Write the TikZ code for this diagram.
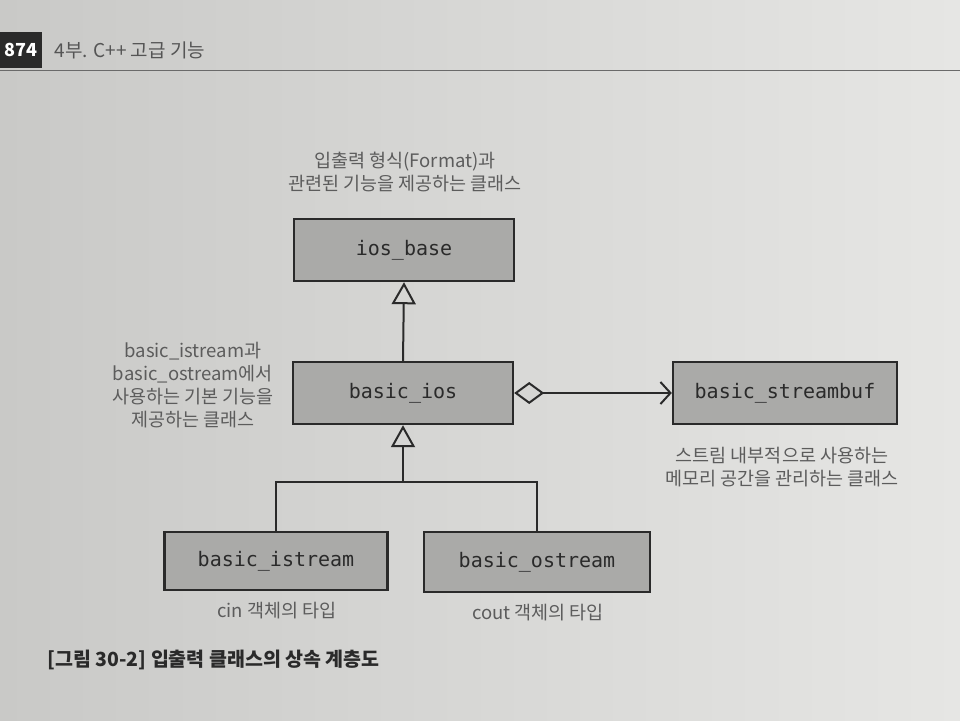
\documentclass[tikz,border=0pt]{standalone}
\usepackage{fontspec}
\setmainfont{Noto Sans CJK KR}
\newfontfamily\classfont{DejaVu Sans Mono}
\usetikzlibrary{arrows.meta, positioning, calc}
\definecolor{pageleft}{HTML}{C9C9C7}
\definecolor{pageright}{HTML}{E6E6E4}
\definecolor{pagegray}{HTML}{D6D6D4}
\definecolor{boxgray}{HTML}{AAAAA8}
\definecolor{inkgray}{HTML}{5C5C5C}
\definecolor{linedark}{HTML}{2A2A2A}

\begin{document}
\begin{tikzpicture}[
    x=1pt, y=-1pt,
    classbox/.style={rectangle, draw=linedark, line width=2.4pt, fill=boxgray, minimum width=220pt, minimum height=62pt, font=\classfont\fontsize{20}{24}\selectfont, text=linedark},
    note/.style={align=center, text=inkgray, font=\fontsize{18.5}{23}\selectfont},
    link/.style={draw=linedark, line width=2pt},
    inherit/.style={link, -{Triangle[open, fill=pagegray, length=22pt, width=24pt, line width=2pt]}}
]

% page
\shade[left color=pageleft, right color=pageright] (0,0) rectangle (960,720);
\useasboundingbox (0,0) rectangle (960,720);

% running head
\fill[linedark] (0,32) rectangle (42,68);
\node[text=white, font=\bfseries\fontsize{18}{20}\selectfont] (pagenum) at (21,50) {874};
\node[right=10pt of pagenum, text=linedark!80, font=\fontsize{19}{22}\selectfont] (runhead) {4부. C++ 고급 기능};
\draw[linedark!70, line width=1pt] (0,70) -- (960,70);

% classes
\node[classbox] (iosbase) at (404,250) {ios\_base};
\node[classbox] (ios) at (403,393) {basic\_ios};
\node[classbox, minimum width=224pt] (streambuf) at (785,393) {basic\_streambuf};
\node[classbox, minimum width=223pt, minimum height=58pt] (istream) at (276,561) {basic\_istream};
\node[classbox, minimum width=226pt, minimum height=60pt] (ostream) at (537,562) {basic\_ostream};

% notes
\node[note] (iosbasenote) at (405,172) {입출력 형식(Format)과\\관련된 기능을 제공하는 클래스};
\node[note] (iosnote) at (193,385) {basic\_istream과\\basic\_ostream에서\\사용하는 기본 기능을\\제공하는 클래스};
\node[note] (streambufnote) at (782,467) {스트림 내부적으로 사용하는\\메모리 공간을 관리하는 클래스};
\node[note] (istreamnote) at (277,611) {cin 객체의 타입};
\node[note] (ostreamnote) at (538,613) {cout 객체의 타입};

% connectors
\coordinate (split) at ($(ios.south)+(0,57)$);
\draw[inherit] (ios.north) -- (iosbase.south);
\draw[inherit] (split) -- (ios.south);
\draw[link] (istream.north) |- (split) -| (ostream.north);
\draw[link, {Diamond[open, fill=pagegray, length=30pt, width=22pt, line width=2pt]}-{Straight Barb[length=10pt, width=22pt, line width=2pt]}] (ios.east) -- (streambuf.west);

% caption
\node[anchor=west, text=linedark, font=\bfseries\fontsize{19.5}{22}\selectfont] (caption) at (44,660) {[그림 30-2] 입출력 클래스의 상속 계층도};

\end{tikzpicture}
\end{document}
